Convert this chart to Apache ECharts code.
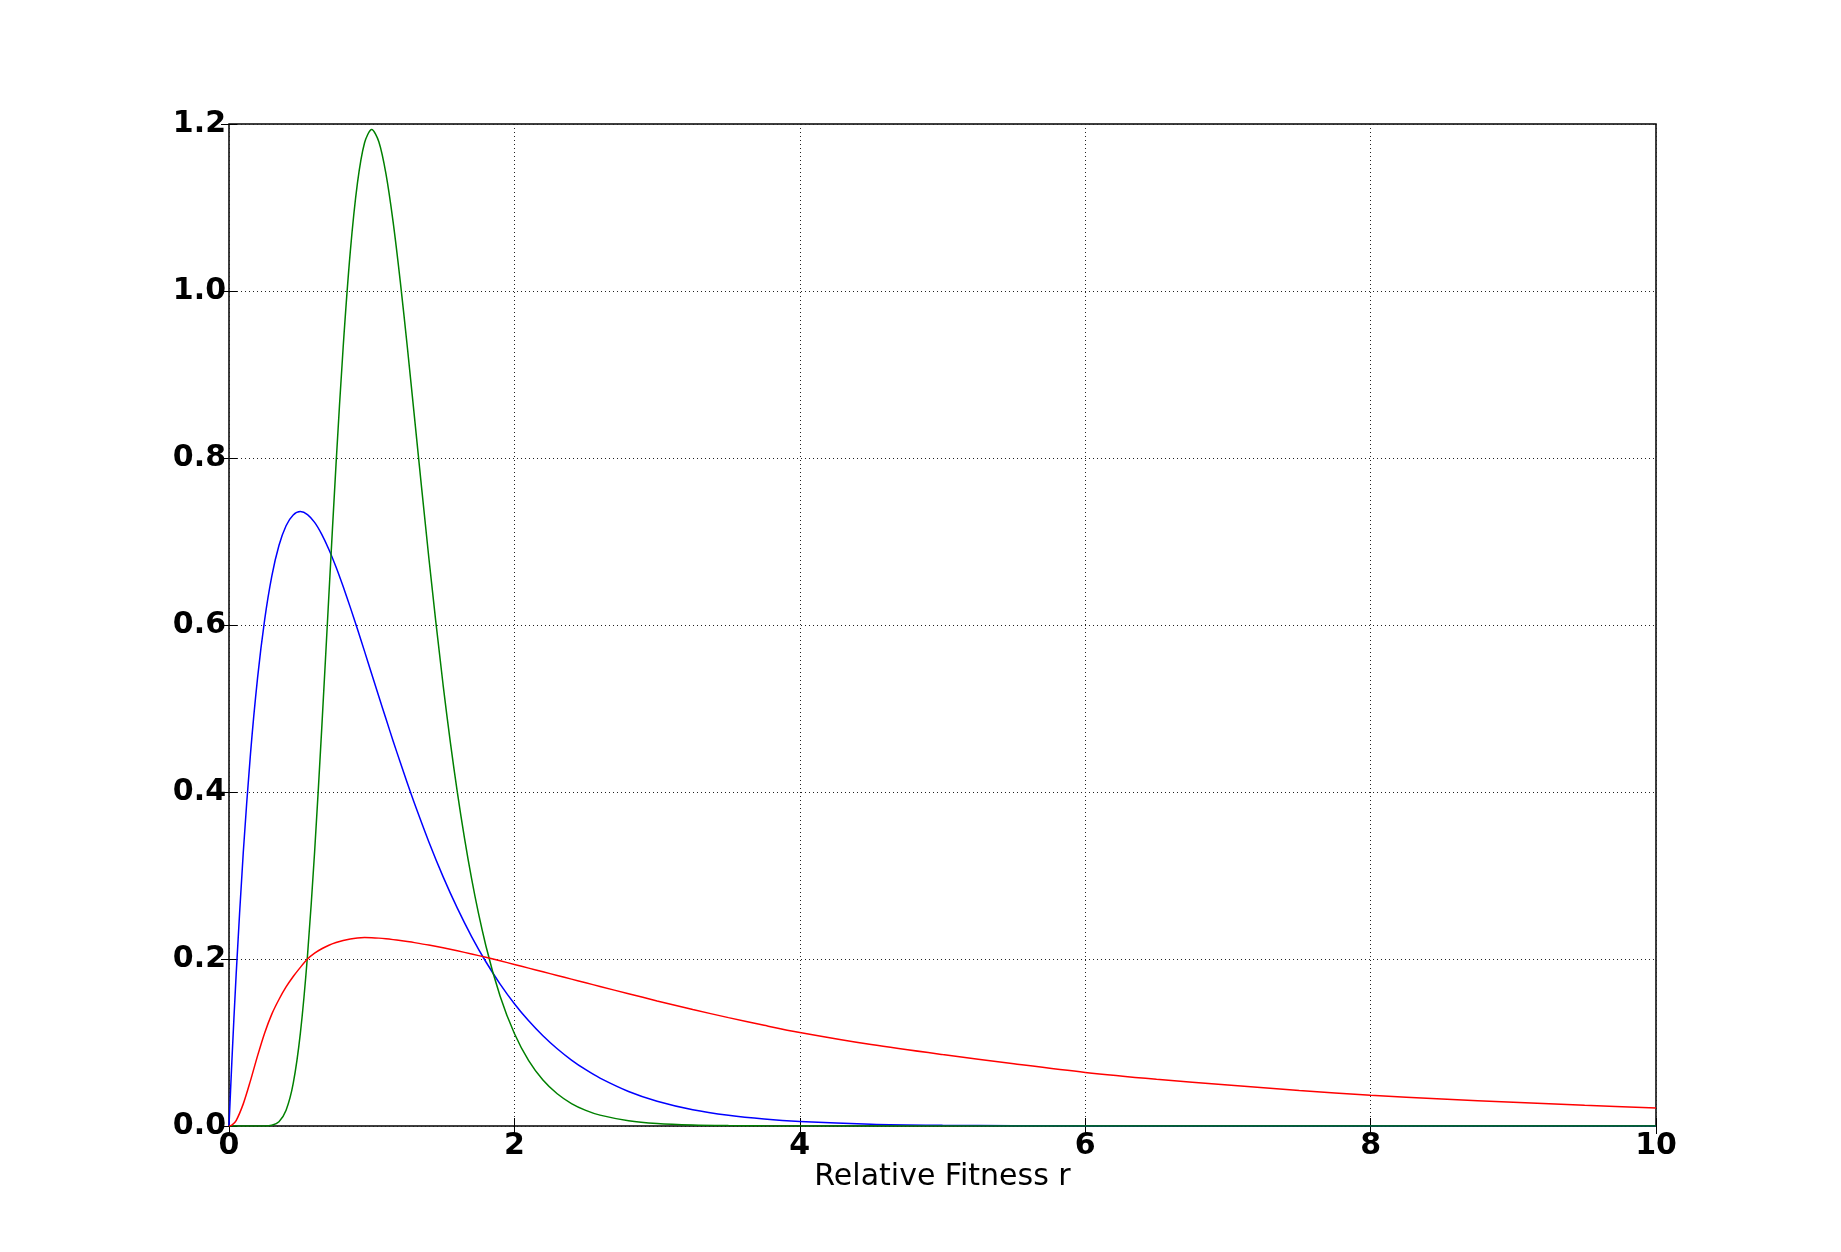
<!DOCTYPE html>
<html>
<head>
<meta charset="utf-8">
<title>Relative Fitness r</title>
<script src="https://cdn.jsdelivr.net/npm/echarts@6/dist/echarts.min.js"></script>
<style>
  html, body { margin: 0; padding: 0; background: #fff; }
  #myChart { width: 1841px; height: 1252px; }
</style>
</head>
<body>
<div id="myChart"></div>
<script>
  // sample positions on r (denser where curves bend)
  var xs = [0, 0.02, 0.05, 0.1, 0.15, 0.2, 0.25, 0.3, 0.35, 0.4, 0.45, 0.5, 0.55, 0.6, 0.65, 0.7,
    0.75, 0.8, 0.85, 0.9, 0.95, 1.0, 1.05, 1.1, 1.15, 1.2, 1.25, 1.3, 1.4, 1.5, 1.6, 1.7, 1.8,
    1.9, 2.0, 2.1, 2.2, 2.3, 2.4, 2.5, 2.6, 2.8, 3.0, 3.25, 3.5, 3.75, 4.0, 4.5, 5.0, 5.5, 6.0,
    6.5, 7.0, 7.5, 8.0, 8.5, 9.0, 9.5, 10.0];

  var blueVals = [0, 0.0769, 0.181, 0.3275, 0.4445, 0.5363, 0.6065, 0.6586, 0.6952, 0.7189,
    0.7318, 0.7358, 0.7323, 0.7229, 0.7086, 0.6905, 0.6694, 0.646, 0.6211, 0.5951, 0.5684,
    0.5413, 0.5143, 0.4876, 0.4612, 0.4355, 0.4104, 0.3862, 0.3405, 0.2987, 0.2609, 0.2269,
    0.1967, 0.17, 0.1465, 0.126, 0.1081, 0.0925, 0.079, 0.0674, 0.0574, 0.0414, 0.0297, 0.0195,
    0.0128, 0.0083, 0.0054, 0.0022, 0.0009, 0.0003, 0.0001, 0, 0, 0, 0, 0, 0, 0, 0];

  var greenVals = [0, 0, 0, 0, 0, 0, 0, 0.0009, 0.0051, 0.0188, 0.051, 0.1109, 0.2039, 0.3285,
    0.4765, 0.636, 0.7924, 0.9327, 1.0471, 1.1291, 1.1775, 1.1935, 1.1788, 1.1403, 1.0828,
    1.0118, 0.9323, 0.8484, 0.6811, 0.5287, 0.3999, 0.2962, 0.2159, 0.1554, 0.1108, 0.0783,
    0.0551, 0.0386, 0.0269, 0.0187, 0.013, 0.0063, 0.003, 0.0012, 0.0005, 0.0002, 0.0001,
    0, 0, 0, 0, 0, 0, 0, 0, 0, 0, 0, 0];

  var redVals = [0, 0.001, 0.0065, 0.0265, 0.054, 0.084, 0.1115, 0.134, 0.1515, 0.1665, 0.179,
    0.19, 0.2, 0.207, 0.2123, 0.2165, 0.2197, 0.2222, 0.224, 0.2251, 0.2256, 0.2255, 0.225,
    0.2242, 0.2232, 0.2221, 0.2209, 0.2196, 0.2167, 0.2134, 0.2098, 0.206, 0.202, 0.1978,
    0.1935, 0.1891, 0.1847, 0.1803, 0.1759, 0.1715, 0.1671, 0.1584, 0.1498, 0.1395, 0.1298,
    0.1206, 0.112, 0.0975, 0.0855, 0.0745, 0.0642, 0.056, 0.049, 0.0425, 0.0368, 0.0323,
    0.0284, 0.0248, 0.0217];

  var xName = 'Relative Fitness r';
  var xMin = 0, xMax = 10, xStep = 2;
  var yMin = 0, yMax = 1.2, yStep = 0.2;

  var tickFont = { fontFamily: 'DejaVu Sans', fontWeight: 'bold', fontSize: 30, color: '#000' };

  function pairs(vals) {
    return xs.map(function (x, i) { return [x, vals[i]]; });
  }

  function curve(vals, color) {
    return {
      type: 'line',
      data: pairs(vals),
      showSymbol: false,
      smooth: 0.3,
      clip: true,
      lineStyle: { color: color, width: 1.5 },
      itemStyle: { color: color },
      z: 3
    };
  }

  // bottom/left carry labels and grid; top/right only repeat the inward ticks
  function xAx(pos, main) {
    return {
      type: 'value', position: pos, min: xMin, max: xMax, interval: xStep,
      axisLine: { show: false },
      axisTick: { show: true, inside: true, length: 8, lineStyle: { color: '#000', width: 1 } },
      axisLabel: Object.assign({ show: main, margin: 5 }, tickFont),
      splitLine: { show: main, lineStyle: { color: '#222', width: 1, type: [1, 3] } },
      name: main ? xName : '',
      nameLocation: 'middle',
      nameGap: 36,
      nameMoveOverlap: false,
      nameTextStyle: { fontFamily: 'DejaVu Sans', fontSize: 30, color: '#000' }
    };
  }

  function yAx(pos, main) {
    return {
      type: 'value', position: pos, min: yMin, max: yMax, interval: yStep,
      axisLine: { show: false },
      axisTick: { show: true, inside: true, length: 8, lineStyle: { color: '#000', width: 1 } },
      axisLabel: Object.assign({
        show: main, margin: 3,
        formatter: function (v) { return v.toFixed(1); }
      }, tickFont),
      splitLine: { show: main, lineStyle: { color: '#222', width: 1, type: [1, 3] } }
    };
  }

  var option = {
    backgroundColor: '#fff',
    animation: false,
    grid: {
      left: 229, top: 124, width: 1427, height: 1002,
      show: true, borderColor: '#000', borderWidth: 1.5, backgroundColor: 'transparent',
      containLabel: false, outerBoundsMode: 'none'
    },
    xAxis: [xAx('bottom', true), xAx('top', false)],
    yAxis: [yAx('left', true), yAx('right', false)],
    series: [
      curve(blueVals, '#0000ff'),
      curve(greenVals, '#008000'),
      curve(redVals, '#ff0000')
    ]
  };

  var myChart = echarts.init(document.getElementById('myChart'), null, { renderer: 'canvas' });
  myChart.setOption(option, true);
</script>
</body>
</html>
